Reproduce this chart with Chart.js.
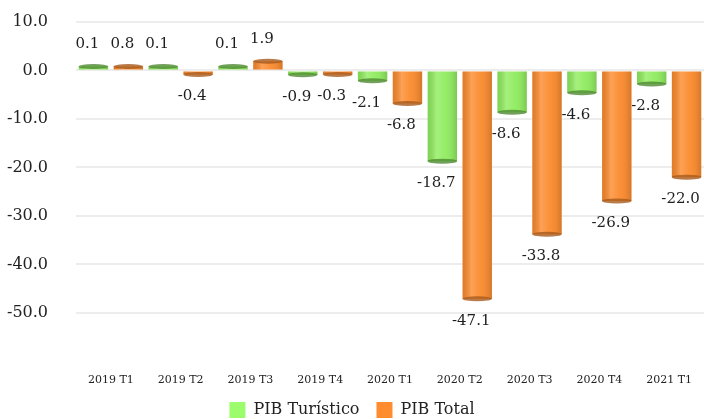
<!DOCTYPE html>
<html>
<head>
<meta charset="utf-8">
<script src="https://cdn.jsdelivr.net/npm/chart.js@4"></script>
<style>
  html, body { margin: 0; padding: 0; background: #ffffff; overflow: hidden; }
  #wrap { width: 704px; height: 419px; }
</style>
</head>
<body>
<div id="wrap"><canvas id="pibChart"></canvas></div>
<script>
const quarters = ['2019 T1', '2019 T2', '2019 T3', '2019 T4', '2020 T1', '2020 T2', '2020 T3', '2020 T4', '2021 T1'];
const pibTuristico = [0.1, 0.1, 0.1, -0.9, -2.1, -18.7, -8.6, -4.6, -2.8];
const pibTotal = [0.8, -0.4, 1.9, -0.3, -6.8, -47.1, -33.8, -26.9, -22.0];
const yTicks = [10, 0, -10, -20, -30, -40, -50];

const fontFamily = '"DejaVu Serif", "Liberation Serif", serif';
const capColors = ['#4f8a32', '#a85a1c'];

// cylinder-ish shading on each bar + value labels
const barDecor = {
    id: 'barDecor',
    afterDatasetsDraw(chart) {
        const ctx = chart.ctx;
        chart.data.datasets.forEach(function (ds, di) {
            const meta = chart.getDatasetMeta(di);
            meta.data.forEach(function (bar, i) {
                const w = bar.width;
                const left = bar.x - w / 2;
                const top = Math.min(bar.y, bar.base);
                const h = Math.abs(bar.base - bar.y);
                const g = ctx.createLinearGradient(left, 0, left + w, 0);
                g.addColorStop(0, 'rgba(0,0,0,0.10)');
                g.addColorStop(0.3, 'rgba(255,255,255,0.20)');
                g.addColorStop(0.6, 'rgba(255,255,255,0.05)');
                g.addColorStop(1, 'rgba(0,0,0,0.15)');
                ctx.save();
                ctx.fillStyle = g;
                ctx.fillRect(left, top, w, h);
                // rounded end
                ctx.beginPath();
                ctx.ellipse(bar.x, bar.y, w / 2, 2.5, 0, 0, Math.PI * 2);
                ctx.fillStyle = capColors[di];
                ctx.globalAlpha = 0.8;
                ctx.fill();
                ctx.restore();

                const v = ds.data[i];
                ctx.save();
                ctx.font = '15px ' + fontFamily;
                ctx.fillStyle = '#1e1e1e';
                ctx.textAlign = 'center';
                ctx.textBaseline = 'middle';
                const ly = v >= 0 ? bar.y - 22 : bar.y + 22;
                ctx.fillText(v.toFixed(1), bar.x - 6, ly);
                ctx.restore();
            });
        });
    }
};

document.addEventListener('DOMContentLoaded', function () {
    const ctx = document.getElementById('pibChart').getContext('2d');
    new Chart(ctx, {
        type: 'bar',
        data: {
            labels: quarters,
            datasets: [{
                label: 'PIB Turístico',
                data: pibTuristico,
                backgroundColor: '#8fec5e',
                minBarLength: 4,
                barPercentage: 0.843,
                categoryPercentage: 1.0
            }, {
                label: 'PIB Total',
                data: pibTotal,
                backgroundColor: '#fb8a2c',
                minBarLength: 4,
                barPercentage: 0.843,
                categoryPercentage: 1.0
            }]
        },
        options: {
            responsive: true,
            maintainAspectRatio: false,
            animation: false,
            layout: { padding: { top: 22, right: 0, left: 0, bottom: 0 } },
            plugins: {
                legend: {
                    position: 'bottom',
                    maxHeight: 34,
                    labels: {
                        boxWidth: 16,
                        boxHeight: 16,
                        padding: 17,
                        color: '#222222',
                        font: { family: fontFamily, size: 16 },
                        generateLabels(chart) {
                            return chart.data.datasets.map(function (ds, i) {
                                return {
                                    text: ds.label,
                                    fillStyle: i === 0 ? '#9dfc6c' : '#ff8c2e',
                                    strokeStyle: 'rgba(0,0,0,0)',
                                    lineWidth: 0,
                                    datasetIndex: i,
                                    fontColor: '#222222'
                                };
                            });
                        }
                    }
                },
                tooltip: { enabled: false }
            },
            scales: {
                x: {
                    grid: { display: false, drawTicks: true, tickLength: 29 },
                    border: { display: false },
                    ticks: {
                        color: '#222222',
                        padding: -2,
                        maxRotation: 0,
                        font: { family: fontFamily, size: 11 }
                    }
                },
                y: {
                    min: -57,
                    max: 10,
                    afterBuildTicks(axis) {
                        axis.ticks = yTicks.map(function (v) { return { value: v }; });
                    },
                    afterFit(axis) { axis.width = 76; },
                    border: { display: false },
                    grid: { color: '#ededed', lineWidth: 2, drawTicks: true, tickLength: 24, tickColor: 'rgba(0,0,0,0)' },
                    ticks: {
                        color: '#222222',
                        padding: 4,
                        font: { family: fontFamily, size: 16 },
                        callback: function (v) { return Number(v).toFixed(1); }
                    }
                }
            }
        },
        plugins: [barDecor]
    });
});
</script>
</body>
</html>
